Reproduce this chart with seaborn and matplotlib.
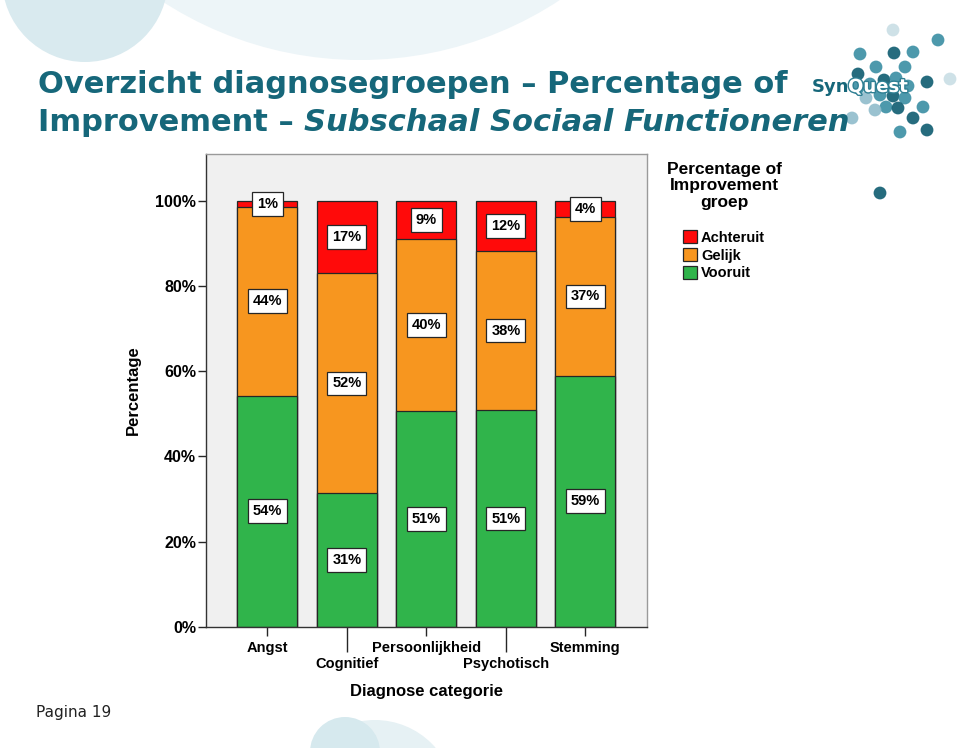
import matplotlib
matplotlib.use("Agg")
import matplotlib.pyplot as plt
import matplotlib.patheffects as pe
from matplotlib.patches import Patch, Circle
import seaborn as sns
import pandas as pd

# data (percent per diagnosis group)
categories = ["Angst", "Cognitief", "Persoonlijkheid", "Psychotisch", "Stemming"]
vooruit = [54.3, 31.3, 50.7, 50.8, 59.0]
gelijk = [44.3, 51.7, 40.3, 37.5, 37.2]
achteruit = [1.4, 17.0, 9.0, 11.7, 3.8]
stack_order = ["Vooruit", "Gelijk", "Achteruit"]
legend_order = ["Achteruit", "Gelijk", "Vooruit"]
y_ticks = [0, 20, 40, 60, 80, 100]

colors = {"Achteruit": "#ff0a0a", "Gelijk": "#f7961f", "Vooruit": "#30b44b"}
teal = "#16677a"
edge = "#262626"

sns.set_style("white")
plt.rcParams['font.family'] = ['Liberation Sans', 'DejaVu Sans']
plt.rcParams['font.weight'] = 'bold'
plt.rcParams['text.color'] = 'black'
plt.rcParams['xtick.color'] = 'black'
plt.rcParams['ytick.color'] = 'black'
plt.rcParams['axes.labelcolor'] = 'black'

df = pd.DataFrame({"categorie": categories, "Vooruit": vooruit,
                   "Gelijk": gelijk, "Achteruit": achteruit})
tops = df[stack_order].cumsum(axis=1)

fig = plt.figure(figsize=(9.6, 7.48), dpi=100)

# background decorations (slide template)
bg = fig.add_axes([0, 0, 1, 1], zorder=-5)
bg.set_xlim(0, 960)
bg.set_ylim(748, 0)
bg.axis("off")
bg.add_patch(Circle((360, -303), 363, color="#edf5f8", lw=0))
bg.add_patch(Circle((85, -21), 83, color="#d9eaef", lw=0))
bg.add_patch(Circle((375, 800), 80, color="#e6f1f4", lw=0))
bg.add_patch(Circle((345, 752), 35, color="#d6e9ee", lw=0))

dark, mid, light, pale = "#0e5c70", "#3a8ea3", "#8fbccb", "#c9dee5"
logo_dots = [(893, 30, pale), (938, 40, mid), (860, 54, mid), (894, 53, dark),
             (913, 52, mid), (876, 67, mid), (905, 67, mid), (858, 74, dark),
             (927, 82, dark), (950, 79, pale), (870, 84, mid), (884, 80, dark),
             (896, 78, mid), (908, 86, mid), (880, 95, mid), (893, 96, dark),
             (905, 98, mid), (866, 98, light), (886, 107, mid), (898, 108, dark),
             (923, 107, mid), (875, 110, light), (913, 118, dark), (900, 132, mid),
             (927, 130, dark), (880, 193, dark), (852, 118, light), (858, 88, mid)]
bg.scatter([d[0] for d in logo_dots], [d[1] for d in logo_dots],
           c=[d[2] for d in logo_dots], s=85, lw=0, alpha=0.9)
bg.text(812, 92, "Syn", color=teal, fontsize=13, family="DejaVu Sans",
        weight="bold", va="baseline")
bg.text(848, 92, "Quest", color="white", fontsize=13, family="DejaVu Sans",
        weight="bold", va="baseline",
        path_effects=[pe.withStroke(linewidth=2, foreground="#2f7f93")])

# title
t1 = fig.text(38 / 960, 1 - 93 / 748, "Overzicht diagnosegroepen \u2013 Percentage of",
              fontsize=22, family="DejaVu Sans", weight="bold", color=teal, va="baseline")
t2 = fig.text(38 / 960, 1 - 131 / 748, "Improvement \u2013 ",
              fontsize=22, family="DejaVu Sans", weight="bold", color=teal, va="baseline")
bg.annotate("Subschaal Sociaal Functioneren", xy=(1, 0), xycoords=t2,
            ha="left", va="bottom", fontsize=22, family="DejaVu Sans",
            weight="bold", style="italic", color=teal)

fig.text(36 / 960, 1 - 712 / 748, "Pagina 19", fontsize=11, family="DejaVu Sans",
         weight="normal", color="#222222", va="center")

# chart
ax = fig.add_axes([0.2143, 0.1622, 0.4597, 0.6316])
ax.set_facecolor("#f0f0f0")

for g in reversed(stack_order):
    sns.barplot(x=df["categorie"], y=tops[g], color=colors[g], saturation=1,
                width=0.755, edgecolor=edge, linewidth=0.9, ax=ax, zorder=2)

for i in range(len(categories)):
    for g in stack_order:
        v = df.loc[i, g]
        mid_y = tops.loc[i, g] - v / 2
        ax.text(i, mid_y, f"{v:.0f}%", ha="center", va="center", fontsize=10.5,
                weight="bold", zorder=5,
                bbox=dict(boxstyle="square,pad=0.33", fc="white", ec=edge, lw=0.9))

ax.set_xlim(-0.775, 4.776)
ax.set_ylim(0, 111)
ax.set_yticks(y_ticks)
ax.set_yticklabels([f"{t}%" for t in y_ticks])

ax.set_xticks([0, 2, 4])
ax.set_xticklabels([categories[i] for i in (0, 2, 4)])
ax.set_xticks([1, 3], minor=True)
ax.set_xticklabels([categories[i] for i in (1, 3)], minor=True)

ax.tick_params(axis="y", direction="out", length=6, width=1, color=edge,
               pad=1, labelsize=11.5, left=True)
ax.tick_params(axis="x", which="major", direction="out", length=6.5, width=1,
               color=edge, pad=3.5, labelsize=10.5, bottom=True)
ax.tick_params(axis="x", which="minor", direction="out", length=18, width=1,
               color=edge, pad=3.5, labelsize=10.5, bottom=True)
for lab in ax.get_xticklabels(which="both") + ax.get_yticklabels():
    lab.set_fontweight("bold")

for s in ["left", "bottom"]:
    ax.spines[s].set_color("#333333")
    ax.spines[s].set_linewidth(1)
for s in ["top", "right"]:
    ax.spines[s].set_color("#9a9a9a")
    ax.spines[s].set_linewidth(1)

ax.set_ylabel("Percentage", fontsize=12, weight="bold")
ax.yaxis.set_label_coords(-0.147, 0.5)
ax.set_xlabel("Diagnose categorie", fontsize=12, weight="bold")
ax.xaxis.set_label_coords(0.5, -0.121)

# legend (title placed separately to get the SPSS spacing)
fig.text(724 / 960, 1 - 162 / 748, "Percentage of\nImprovement\ngroep",
         ha="center", va="top", multialignment="center", fontsize=12.5,
         weight="bold", linespacing=1.12)
handles = [Patch(facecolor=colors[g], edgecolor=edge, lw=0.9) for g in legend_order]
leg = fig.legend(handles, legend_order, loc="upper center",
                 bbox_to_anchor=(724 / 960, 1 - 223 / 748), frameon=False,
                 fontsize=10.5, handlelength=0.95, handleheight=0.95,
                 handletextpad=0.3, labelspacing=0.25, borderpad=0)
for t in leg.get_texts():
    t.set_fontweight("bold")

fig.savefig("out.png", dpi=100)
